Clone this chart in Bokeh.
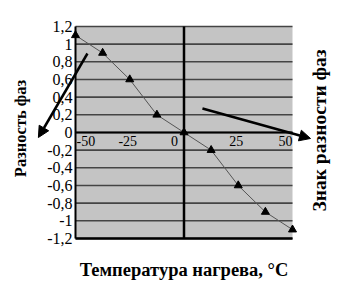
from math import pi
from bokeh.plotting import figure
from bokeh.models import Range1d, Arrow, NormalHead
from bokeh.core.properties import value
from bokeh.embed import file_html
from bokeh.resources import INLINE

# --- data ---
temps = [-50, -37.5, -25, -12.5, 0, 12.5, 25, 37.5, 50]
phase = [1.1, 0.9, 0.6, 0.2, 0.0, -0.2, -0.6, -0.9, -1.1]

x_ticks = [-50, -25, 0, 25, 50]
x_tick_labels = ["-50", "-25", "0", "25", "50"]
y_ticks = [-1.2, -1.0, -0.8, -0.6, -0.4, -0.2, 0.0, 0.2, 0.4, 0.6, 0.8, 1.0, 1.2]
y_tick_labels = ["-1,2", "-1", "-0,8", "-0,6", "-0,4", "-0,2", "0",
                 "0,2", "0,4", "0,6", "0,8", "1", "1,2"]

x_title = "Температура нагрева, °С"
y_title = "Разность фаз"
r_title = "Знак разности фаз"

SERIF = value("Liberation Serif")

# The whole canvas is the frame; ranges are padded so the plot area sits
# where it does in the reference.
p = figure(width=356, height=293, output_backend="svg", toolbar_location=None,
           x_range=Range1d(-84.56, 79.49), y_range=Range1d(-1.823, 1.494),
           x_axis_location=None, y_axis_location=None, min_border=0)
p.grid.visible = False
p.outline_line_color = None
p.background_fill_color = "white"
p.border_fill_color = "white"

x0, x1 = x_ticks[0], x_ticks[-1]
y0, y1 = y_ticks[0], y_ticks[-1]

# plot area
p.quad(left=[x0], right=[x1], bottom=[y0], top=[y1],
       fill_color="#c4c4c4", line_color=None)

# horizontal grid lines
p.segment(x0=[x0] * len(y_ticks), x1=[x1] * len(y_ticks), y0=y_ticks, y1=y_ticks,
          line_color="#444444", line_width=1.6)

# axis lines
p.segment(x0=[x0], x1=[x1], y0=[0], y1=[0], line_color="black", line_width=2)
p.segment(x0=[0], x1=[0], y0=[y0], y1=[y1], line_color="black", line_width=2.5)
p.segment(x0=[x0], x1=[x0], y0=[y0], y1=[y1], line_color="black", line_width=2)
p.segment(x0=[x0], x1=[x1], y0=[y0], y1=[y0], line_color="black", line_width=2.5)

# y tick labels
p.text(x=[x0] * len(y_ticks), y=y_ticks, text=y_tick_labels, x_offset=-3,
       text_align="right", text_baseline="middle", text_font=SERIF,
       text_font_size="16px", text_color="black")

# x tick labels (positioned like the reference: end labels kept inside)
xl = dict(text_baseline="top", y_offset=4, text_font=SERIF,
          text_font_size="14px", text_color="black")
p.text(x=x_ticks[:1], y=[0], text=x_tick_labels[:1], text_align="left", x_offset=1, **xl)
p.text(x=[x_ticks[1], x_ticks[3]], y=[0, 0], text=[x_tick_labels[1], x_tick_labels[3]],
       text_align="center", x_offset=-2, **xl)
p.text(x=x_ticks[2:3], y=[0], text=x_tick_labels[2:3], text_align="right", x_offset=-6, **xl)
p.text(x=x_ticks[4:], y=[0], text=x_tick_labels[4:], text_align="right", **xl)

# data
p.line(temps, phase, line_color="#555555", line_width=1)
p.scatter(temps, phase, marker="triangle", size=8, color="black")

# annotation arrows
p.add_layout(Arrow(end=NormalHead(size=11, fill_color="black", line_color="black"),
                   x_start=-44.5, y_start=0.894, x_end=-67.1, y_end=-0.057,
                   line_color="black", line_width=2.5))
p.add_layout(Arrow(end=NormalHead(size=11, fill_color="black", line_color="black"),
                   x_start=8.5, y_start=0.272, x_end=58.3, y_end=-0.068,
                   line_color="black", line_width=2.5))

# titles
tl = dict(text_align="center", text_baseline="middle", text_font=SERIF,
          text_font_style="bold", text_color="black")
p.text(x=[-75.3], y=[0.045], text=[y_title], angle=pi / 2, text_font_size="16.5px", **tl)
p.text(x=[62.3], y=[0.023], text=[r_title], angle=pi / 2, text_font_size="19.5px", **tl)
p.text(x=[0], y=[-1.562], text=[x_title], text_font_size="18.5px", **tl)

open("out.html", "w").write(file_html(p, INLINE))
